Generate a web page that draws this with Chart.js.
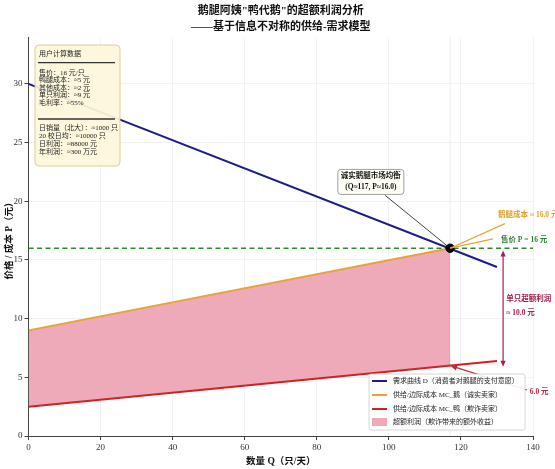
<!DOCTYPE html>
<html><head><meta charset="utf-8">
<script src="https://cdn.jsdelivr.net/npm/chart.js@4.4.1/dist/chart.umd.min.js"></script>
<style>html,body{margin:0;padding:0;background:#fff;}#wrap{width:555px;height:469px;position:relative;}</style>
</head><body><div id="wrap"><canvas id="c"></canvas></div>
<script>
const titleLines = ['鹅腿阿姨"鸭代鹅"的超额利润分析', '——基于信息不对称的供给-需求模型'];
const xAxisTitle = '数量 Q（只/天）';
const yAxisTitle = '价格 / 成本 P（元）';
const xTicks = [0, 20, 40, 60, 80, 100, 120, 140];
const yTicks = [0, 5, 10, 15, 20, 25, 30];
const xRange = [0, 140];
const yRange = [0, 34];
const demandQ = [0, 130];
const demandP = [30, 14.4];
const mcGooseQ = [0, 117];
const mcGooseP = [9, 16];
const mcDuckQ = [0, 130];
const mcDuckP = [2.5, 6.4];
const profitQ = [0, 117];
const profitTop = [9, 16];
const profitBottom = [2.5, 6.0];
const priceQ = [0, 140];
const priceP = [16, 16];
const equilibrium = [117, 16];
const duckCostAtEq = [117, 6.0];
const legendLabels = ['需求曲线 D（消费者对鹅腿的支付意愿）', '供给/边际成本 MC_鹅（诚实卖家）', '供给/边际成本 MC_鸭（欺诈卖家）', '超额利润（欺诈带来的额外收益）'];
const infoTitle = '用户计算数据';
const infoGroup1 = ['售价：16 元/只', '鸭腿成本：≈5 元', '其他成本：≈2 元', '单只利润：≈9 元', '毛利率：≈55%'];
const infoGroup2 = ['日销量（北大）：≈1000 只', '20 校日均：≈10000 只', '日利润：≈88000 元', '年利润：≈300 万元'];
const eqLabel = ['诚实鹅腿市场均衡', '(Q≈117, P≈16.0)'];
const gooseCostLabel = '鹅腿成本 ≈ 16.0 元';
const priceLabel = '售价 P = 16 元';
const excessLabel = ['单只超额利润', '≈ 10.0 元'];
const duckCostLabel = '6.0 元';

const C = {demand:'#1c1c8a', goose:'#e8a33a', duck:'#cf2323', fill:'#eeaab9', green:'#2e8b2e', maroon:'#a3224f'};
const pts = (qs, ps) => qs.map((q, i) => ({x: q, y: ps[i]}));
const FONT = (s, b) => (b ? 'bold ' : '') + s + 'px "Liberation Serif","Noto Sans CJK SC",serif';

function arrowHead(ctx, x1, y1, x2, y2, len, half, color) {
  const ang = Math.atan2(y2 - y1, x2 - x1);
  ctx.save(); ctx.fillStyle = color; ctx.beginPath();
  ctx.moveTo(x2, y2);
  ctx.lineTo(x2 - len * Math.cos(ang) + half * Math.sin(ang), y2 - len * Math.sin(ang) - half * Math.cos(ang));
  ctx.lineTo(x2 - len * Math.cos(ang) - half * Math.sin(ang), y2 - len * Math.sin(ang) + half * Math.cos(ang));
  ctx.closePath(); ctx.fill(); ctx.restore();
}
function rrect(ctx, x, y, w, h, r) {
  ctx.beginPath(); ctx.moveTo(x + r, y); ctx.lineTo(x + w - r, y); ctx.quadraticCurveTo(x + w, y, x + w, y + r);
  ctx.lineTo(x + w, y + h - r); ctx.quadraticCurveTo(x + w, y + h, x + w - r, y + h); ctx.lineTo(x + r, y + h);
  ctx.quadraticCurveTo(x, y + h, x, y + h - r); ctx.lineTo(x, y + r); ctx.quadraticCurveTo(x, y, x + r, y); ctx.closePath();
}

const overlay = {
  id: 'overlay',
  afterDraw(chart) {
    const {ctx, chartArea: a, scales} = chart;
    const X = q => scales.x.getPixelForValue(q), Y = p => scales.y.getPixelForValue(p);
    ctx.save();
    ctx.textBaseline = 'middle';
    // titles
    ctx.fillStyle = '#111'; ctx.textAlign = 'center'; ctx.font = FONT(11, true);
    const cx = (a.left + a.right) / 2;
    ctx.fillText(titleLines[0], cx, 11);
    ctx.fillText(titleLines[1], cx, 27);
    ctx.font = FONT(9.5, true);
    ctx.fillText(xAxisTitle, cx, 462);
    ctx.save(); ctx.translate(10, (a.top + a.bottom) / 2 + 2); ctx.rotate(-Math.PI / 2); ctx.fillText(yAxisTitle, 0, 0); ctx.restore();

    const ex = X(equilibrium[0]), ey = Y(equilibrium[1]);
    // equilibrium leader + box
    ctx.strokeStyle = '#111'; ctx.lineWidth = 0.8;
    ctx.beginPath(); ctx.moveTo(X(99), Y(20.5)); ctx.lineTo(ex, ey); ctx.stroke();
    ctx.font = FONT(7.5, true);
    const bx = X(95), by = Y(21.65);
    rrect(ctx, bx - 33, by - 12.5, 66, 25, 3);
    ctx.fillStyle = 'rgba(255,255,245,0.95)'; ctx.fill(); ctx.strokeStyle = '#888'; ctx.lineWidth = 0.8; ctx.stroke();
    ctx.fillStyle = '#111'; ctx.textAlign = 'center';
    ctx.fillText(eqLabel[0], bx, by - 5.5);
    ctx.fillText(eqLabel[1], bx, by + 5.5);

    // orange annotation lines
    ctx.strokeStyle = C.goose; ctx.lineWidth = 1.3;
    ctx.beginPath(); ctx.moveTo(ex, ey); ctx.lineTo(X(132.2), Y(18.1)); ctx.stroke();
    ctx.beginPath(); ctx.moveTo(ex, ey); ctx.lineTo(X(128.9), Y(16.8)); ctx.stroke();
    ctx.textAlign = 'left'; ctx.font = FONT(7.5, true);
    ctx.fillStyle = '#e0a030'; ctx.fillText(gooseCostLabel, X(130.3), Y(18.8));
    ctx.fillStyle = '#2e7d32'; ctx.fillText(priceLabel, X(131.1), Y(16.7));

    // maroon double arrow
    const mx = X(131.7), mt = Y(15.8), mb = Y(5.9);
    ctx.strokeStyle = C.maroon; ctx.lineWidth = 1.2;
    ctx.beginPath(); ctx.moveTo(mx, mt + 4); ctx.lineTo(mx, mb - 4); ctx.stroke();
    arrowHead(ctx, mx, mb, mx, mt, 6, 2.6, C.maroon);
    arrowHead(ctx, mx, mt, mx, mb, 6, 2.6, C.maroon);
    ctx.fillStyle = C.maroon; ctx.font = FONT(7.5, true);
    ctx.fillText(excessLabel[0], X(132.6), Y(11.7));
    ctx.fillText(excessLabel[1], X(132.6), Y(10.5));

    // duck cost arrow
    const sx = X(138.3), sy = Y(3.92), tx = X(duckCostAtEq[0]), ty = Y(duckCostAtEq[1]);
    ctx.strokeStyle = '#b03048'; ctx.lineWidth = 1.2;
    ctx.beginPath(); ctx.moveTo(sx, sy); ctx.lineTo(tx + 5, ty + 1.6); ctx.stroke();
    arrowHead(ctx, sx, sy, tx, ty, 7, 3, '#b03048');
    ctx.fillStyle = '#b03048'; ctx.fillText(duckCostLabel, X(139.1), Y(3.75));

    // legend
    const lx = a.right - 164, ly = a.bottom - 62, lw = 156, lh = 56;
    rrect(ctx, lx, ly, lw, lh, 2);
    ctx.fillStyle = 'rgba(255,255,255,0.9)'; ctx.fill(); ctx.strokeStyle = '#ccc'; ctx.lineWidth = 0.8; ctx.stroke();
    const rows = [7, 21, 35, 48];
    const cols = [C.demand, C.goose, C.duck];
    ctx.font = FONT(7, false); ctx.textAlign = 'left';
    for (let i = 0; i < 4; i++) {
      const ry = ly + rows[i];
      if (i < 3) {
        ctx.strokeStyle = cols[i]; ctx.lineWidth = 2;
        ctx.beginPath(); ctx.moveTo(lx + 3, ry); ctx.lineTo(lx + 18, ry); ctx.stroke();
      } else {
        ctx.fillStyle = C.fill; ctx.fillRect(lx + 3, ry - 4, 15, 8);
      }
      ctx.fillStyle = '#222'; ctx.fillText(legendLabels[i], lx + 24, ry);
    }

    // info box
    const ix = a.left + 6.5, iy = a.top + 8;
    rrect(ctx, ix, iy, 85, 121, 4);
    ctx.fillStyle = 'rgba(253,247,218,0.93)'; ctx.fill(); ctx.strokeStyle = '#d9c98f'; ctx.lineWidth = 0.9; ctx.stroke();
    ctx.fillStyle = '#222'; ctx.font = FONT(7, false);
    ctx.fillText(infoTitle, ix + 4, iy + 9);
    ctx.strokeStyle = '#333'; ctx.lineWidth = 1.3;
    ctx.beginPath(); ctx.moveTo(ix + 3, iy + 17.7); ctx.lineTo(ix + 80, iy + 17.7); ctx.stroke();
    infoGroup1.forEach((t, i) => ctx.fillText(t, ix + 4, iy + 27.7 + i * 7.6));
    ctx.beginPath(); ctx.moveTo(ix + 3, iy + 74); ctx.lineTo(ix + 80, iy + 74); ctx.stroke();
    infoGroup2.forEach((t, i) => ctx.fillText(t, ix + 4, iy + 83.3 + i * 7.8));
    ctx.restore();
  }
};

new Chart(document.getElementById('c'), {
  type: 'scatter',
  data: {
    datasets: [
      {label: 'eq', data: [{x: equilibrium[0], y: equilibrium[1]}], showLine: false, pointRadius: 4.2, pointBackgroundColor: '#000', pointBorderColor: '#000', order: 0},
      {label: 'demand', data: pts(demandQ, demandP), showLine: true, borderColor: C.demand, borderWidth: 2, pointRadius: 0, order: 1},
      {label: 'price', data: pts(priceQ, priceP), showLine: true, borderColor: C.green, borderWidth: 1.6, borderDash: [5, 3.5], pointRadius: 0, order: 2},
      {label: 'goose', data: pts(mcGooseQ, mcGooseP), showLine: true, borderColor: C.goose, borderWidth: 2, pointRadius: 0, order: 3},
      {label: 'duck', data: pts(mcDuckQ, mcDuckP), showLine: true, borderColor: C.duck, borderWidth: 2, pointRadius: 0, order: 4},
      {label: 'vline', data: [{x: equilibrium[0], y: yRange[0]}, {x: equilibrium[0], y: yRange[1]}], showLine: true, borderColor: 'rgba(0,0,0,0.07)', borderWidth: 1, pointRadius: 0, order: 6},
      {label: 'fillBottom', data: pts(profitQ, profitBottom), showLine: true, borderWidth: 0, borderColor: 'rgba(0,0,0,0)', pointRadius: 0, order: 7},
      {label: 'fillTop', data: pts(profitQ, profitTop), showLine: true, borderWidth: 0, borderColor: 'rgba(0,0,0,0)', backgroundColor: C.fill, fill: 6, pointRadius: 0, order: 8}
    ]
  },
  options: {
    responsive: true, maintainAspectRatio: false, animation: false,
    layout: {padding: {top: 37, right: 22, left: 0, bottom: 0}},
    plugins: {legend: {display: false}, tooltip: {enabled: false}, filler: {drawTime: 'beforeDatasetsDraw'}},
    scales: {
      x: {
        type: 'linear', min: xRange[0], max: xRange[1],
        afterBuildTicks: s => { s.ticks = xTicks.map(v => ({value: v})); },
        afterFit: s => { s.height = 33; },
        ticks: {font: {family: '"Liberation Serif","DejaVu Serif",serif', size: 9}, color: '#333', padding: 2, maxRotation: 0},
        grid: {color: 'rgba(0,0,0,0.05)', tickColor: '#444', tickLength: 4},
        border: {display: true, color: '#444', width: 1}
      },
      y: {
        type: 'linear', min: yRange[0], max: yRange[1],
        afterBuildTicks: s => { s.ticks = yTicks.map(v => ({value: v})); },
        afterFit: s => { s.width = 28.5; },
        ticks: {font: {family: '"Liberation Serif","DejaVu Serif",serif', size: 9}, color: '#333', padding: 2},
        grid: {color: 'rgba(0,0,0,0.05)', tickColor: '#444', tickLength: 4},
        border: {display: true, color: '#444', width: 1}
      }
    }
  },
  plugins: [overlay]
});
</script></body></html>
